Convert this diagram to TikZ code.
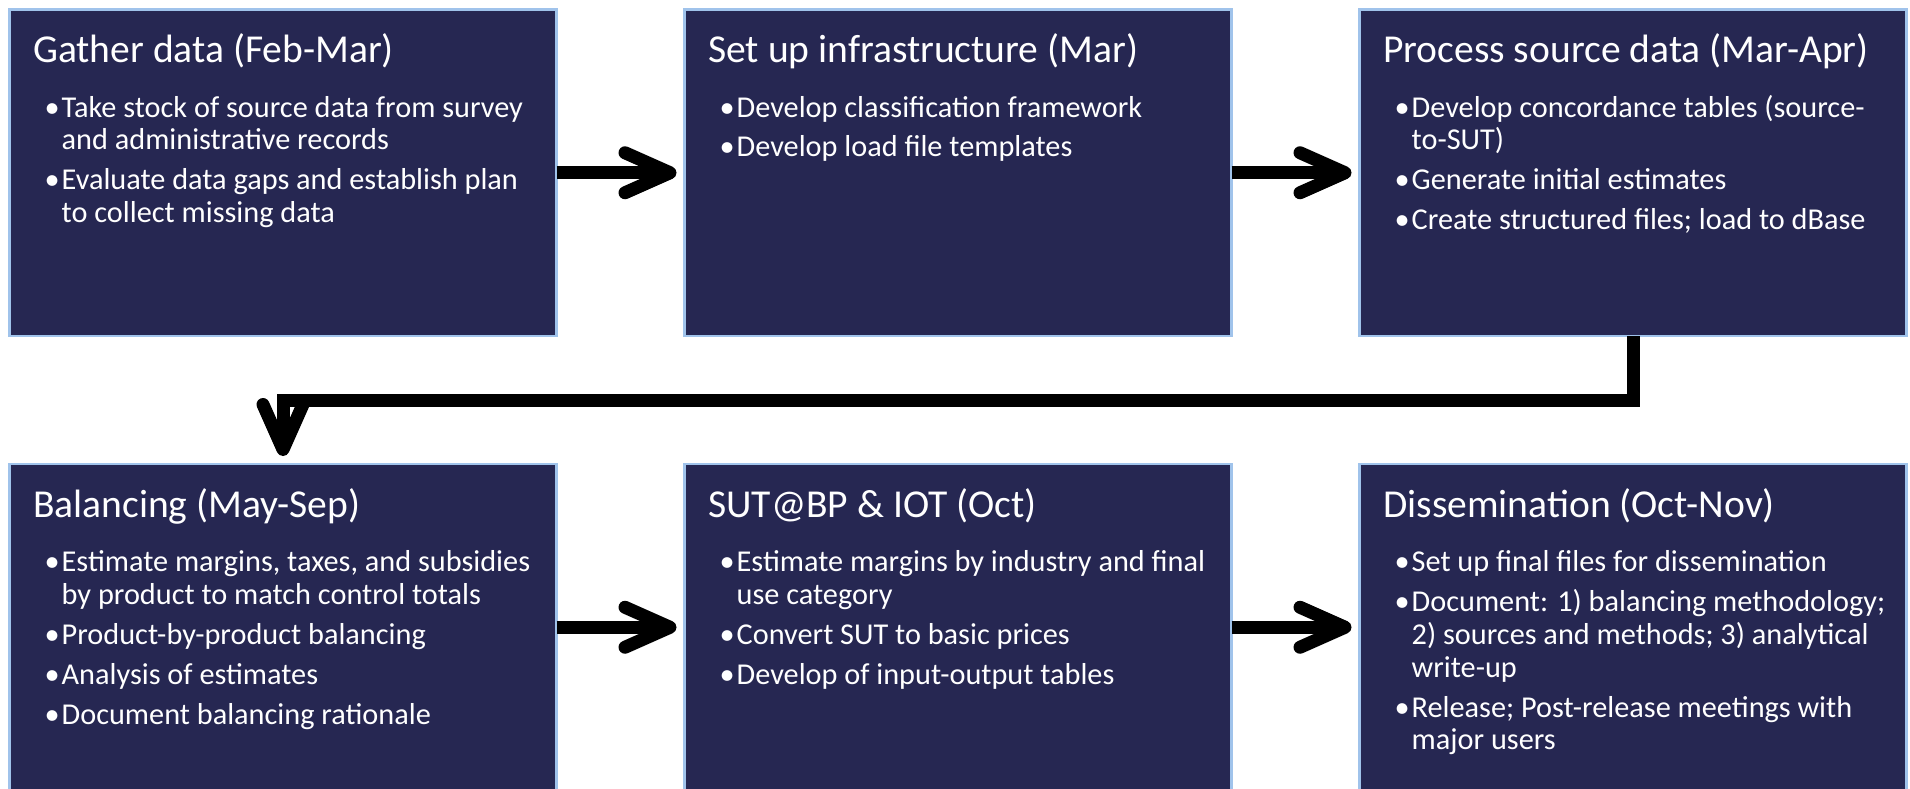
\documentclass[tikz,border=0pt]{standalone}
\usepackage{fontspec}
\setmainfont{Carlito}
\usetikzlibrary{arrows.meta}
\definecolor{boxfill}{RGB}{38,39,82}
\definecolor{boxline}{RGB}{160,195,235}
\newcommand{\bul}{\makebox[11bp][l]{\hspace*{-6bp}\textbullet}}
\newcommand{\ind}{\hspace*{11bp}}
\newcommand{\isep}{\\[7bp]}
\begin{document}
\begin{tikzpicture}[x=1bp,y=1bp,
  stage/.style={draw=boxline, line width=2.5bp, fill=boxfill, minimum width=547bp, minimum height=326.5bp, inner sep=0pt, outer sep=0pt, anchor=north west},
  ttlnode/.style={anchor=base west, text=white, inner sep=0pt, font=\fontsize{39.7}{47}\selectfont},
  bodynode/.style={anchor=base west, text=white, inner sep=0pt, font=\fontsize{30.4}{33}\selectfont},
  flow/.style={line width=13bp, line join=miter, -{Straight Barb[length=45bp,width=40bp,round]}, shorten >=8bp}
]
\useasboundingbox (0,0) rectangle (1910,-789);
% boxes
\node[stage] (b1) at (9.5,-9.5) {};
\node[stage] (b2) at (684.5,-9.5) {};
\node[stage] (b3) at (1359.5,-9.5) {};
\node[stage] (b4) at (9.5,-464) {};
\node[stage] (b5) at (684.5,-464) {};
\node[stage] (b6) at (1359.5,-464) {};
% titles
\path (b1.north west) ++(23.5,-53) node[ttlnode] (t1) {Gather data (Feb-Mar)};
\path (b2.north west) ++(23.5,-53) node[ttlnode] (t2) {Set up infrastructure (Mar)};
\path (b3.north west) ++(23.5,-53) node[ttlnode] (t3) {Process source data (Mar-Apr)};
\path (b4.north west) ++(23.5,-53) node[ttlnode] (t4) {Balancing (May-Sep)};
\path (b5.north west) ++(23.5,-53) node[ttlnode] (t5) {SUT@BP \& IOT (Oct)};
\path (b6.north west) ++(23.5,-53) node[ttlnode] (t6) {Dissemination (Oct-Nov)};
% bodies
\path (b1.north west) ++(41,-107.5) node[bodynode] (l1) {\begin{tabular}[t]{@{}l@{}}
\bul Take stock of source data from survey\\
\ind and administrative records\isep
\bul Evaluate data gaps and establish plan\\
\ind to collect missing data
\end{tabular}};
\path (b2.north west) ++(41,-107.5) node[bodynode] (l2) {\begin{tabular}[t]{@{}l@{}}
\bul Develop classification framework\isep
\bul Develop load file templates
\end{tabular}};
\path (b3.north west) ++(41,-107.5) node[bodynode] (l3) {\begin{tabular}[t]{@{}l@{}}
\bul Develop concordance tables (source-\\
\ind to-SUT)\isep
\bul Generate initial estimates\isep
\bul Create structured files; load to dBase
\end{tabular}};
\path (b4.north west) ++(41,-107.5) node[bodynode] (l4) {\begin{tabular}[t]{@{}l@{}}
\bul Estimate margins, taxes, and subsidies\\
\ind by product to match control totals\isep
\bul Product-by-product balancing\isep
\bul Analysis of estimates\isep
\bul Document balancing rationale
\end{tabular}};
\path (b5.north west) ++(41,-107.5) node[bodynode] (l5) {\begin{tabular}[t]{@{}l@{}}
\bul Estimate margins by industry and final\\
\ind use category\isep
\bul Convert SUT to basic prices\isep
\bul Develop of input-output tables
\end{tabular}};
\path (b6.north west) ++(41,-107.5) node[bodynode] (l6) {\begin{tabular}[t]{@{}l@{}}
\bul Set up final files for dissemination\isep
\bul Document: 1) balancing methodology;\\
\ind 2) sources and methods; 3) analytical\\
\ind write-up\isep
\bul Release; Post-release meetings with\\
\ind major users
\end{tabular}};
% connectors
\draw[flow] (b1.east) -- (b2.west);
\draw[flow] (b2.east) -- (b3.west);
\draw[flow] (b3.south) -- ++(0,-64) -| (b4.north);
\draw[flow] (b4.east) -- (b5.west);
\draw[flow] (b5.east) -- (b6.west);
\end{tikzpicture}
\end{document}
